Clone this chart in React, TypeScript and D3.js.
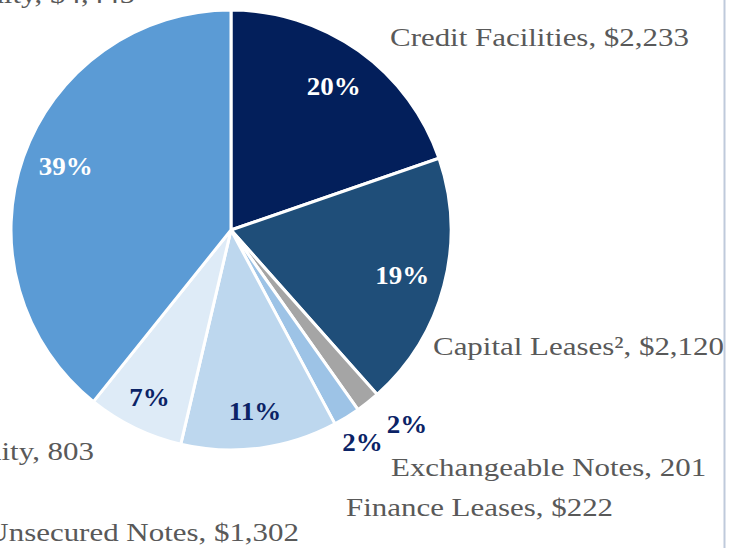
import React from "react";
import * as d3 from "d3";

const categories = [
  "Credit Facilities",
  "Capital Leases²",
  "Exchangeable Notes",
  "Finance Leases",
  "Unsecured Notes",
  "Equity",
  "Total Equity",
];
const values = [2233, 2120, 201, 222, 1302, 803, 4445];
const valueLabels = ["$2,233", "$2,120", "201", "$222", "$1,302", "803", "$4,445"];
const pctLabels = ["20%", "19%", "2%", "2%", "11%", "7%", "39%"];
const colors = ["#031f5b", "#1f4e79", "#a5a5a5", "#9dc3e6", "#bdd7ee", "#deebf7", "#5b9bd5"];
const pctColors = ["#ffffff", "#ffffff", "#0b2366", "#0b2366", "#0b2366", "#0b2366", "#ffffff"];

// layout
const W = 729;
const H = 548;
const CX = 231;
const CY = 230;
const R = 220;
const pctRadius = [177, 177, 262, 250, 183, 186, 177];
const pctAngleNudge = [0, 0, -0.065, 0, 0, 0, 0.03];
const outside = [
  { x: 390, y: 46, anchor: "start" },
  { x: 433, y: 355, anchor: "start" },
  { x: 391, y: 476, anchor: "start" },
  { x: 346, y: 516, anchor: "start" },
  { x: 299, y: 541, anchor: "end" },
  { x: 94, y: 460, anchor: "end" },
  { x: 135, y: 3, anchor: "end" },
];

export default function App() {
  const data = values.map((v, i) => ({ v, i }));
  const pie = d3
    .pie<{ v: number; i: number }>()
    .sort(null)
    .value((d) => d.v)
    .startAngle(0)
    .endAngle(2 * Math.PI);
  const arcs = pie(data);
  const arc = d3
    .arc<d3.PieArcDatum<{ v: number; i: number }>>()
    .innerRadius(0)
    .outerRadius(R);

  return (
    <svg
      width={W}
      height={H}
      style={{ position: "absolute", left: 0, top: 0, background: "#ffffff" }}
    >
      <g transform={`translate(${CX},${CY})`}>
        {arcs.map((a) => (
          <path
            key={a.index}
            d={arc(a) || ""}
            fill={colors[a.index]}
            stroke="#ffffff"
            strokeWidth={3}
            strokeLinejoin="round"
          />
        ))}
        {arcs.map((a) => {
          const mid = (a.startAngle + a.endAngle) / 2 + pctAngleNudge[a.index];
          const r = pctRadius[a.index];
          const x = Math.sin(mid) * r;
          const y = -Math.cos(mid) * r;
          return (
            <text
              key={"p" + a.index}
              transform={`translate(${x},${y}) scale(1.08,1)`}
              textAnchor="middle"
              dy="0.35em"
              fontFamily="'Liberation Serif', serif"
              fontWeight="bold"
              fontSize={25}
              fill={pctColors[a.index]}
            >
              {pctLabels[a.index]}
            </text>
          );
        })}
      </g>
      {categories.map((c, i) => (
        <text
          key={"l" + i}
          transform={`translate(${outside[i].x},${outside[i].y}) scale(1.19,1)`}
          textAnchor={outside[i].anchor as any}
          fontFamily="'Liberation Serif', serif"
          fontSize={26}
          fill="#595959"
        >
          {`${c}, ${valueLabels[i]}`}
        </text>
      ))}
      <line x1={724.5} x2={724.5} y1={0} y2={H} stroke="#bfcadb" strokeWidth={2} />
    </svg>
  );
}
